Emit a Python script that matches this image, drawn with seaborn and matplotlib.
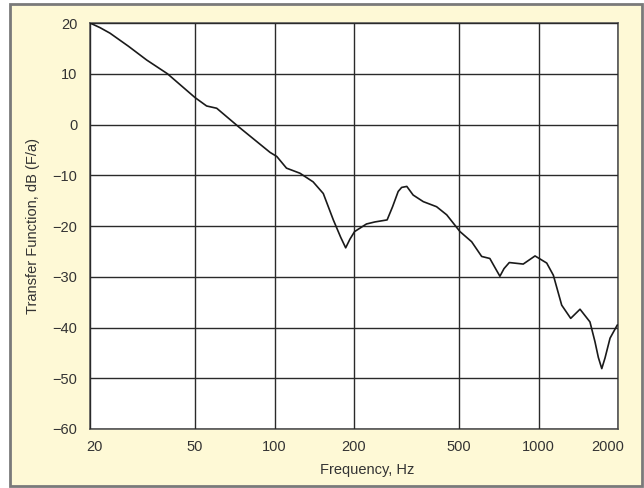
import matplotlib
matplotlib.use("Agg")
import matplotlib.pyplot as plt
import matplotlib.transforms as mtransforms
from matplotlib.patches import Rectangle
import seaborn as sns
import pandas as pd

# Data
freq_hz = [20, 21.8, 23.8, 28, 32.8, 39.3, 50, 55.3, 60.4, 72.9, 96.2, 102, 111,
           124.8, 140, 153, 167, 178, 186, 193, 201, 223, 240, 267, 280, 294, 303,
           317, 335, 366, 411, 449, 504, 558, 609, 654, 684, 714, 740, 775, 875,
           970, 1074, 1138, 1224, 1324, 1436, 1566, 1636, 1685, 1736, 1786, 1866,
           1988]
transfer_db = [20.0, 19.1, 18.0, 15.4, 12.7, 10.0, 5.3, 3.65, 3.2, -0.4, -5.5, -6.3,
               -8.6, -9.6, -11.3, -13.6, -18.8, -22.2, -24.3, -22.6, -21.1, -19.6,
               -19.2, -18.8, -16.2, -13.2, -12.4, -12.2, -13.9, -15.2, -16.2, -17.8,
               -21.1, -23.1, -26.0, -26.4, -28.2, -29.9, -28.4, -27.2, -27.5, -25.9,
               -27.3, -29.7, -35.6, -38.2, -36.4, -38.9, -42.8, -45.9, -48.1, -46.0,
               -42.1, -39.5]
x_ticks = [20, 50, 100, 200, 500, 1000, 2000]
x_tick_labels = ["20", "50", "100", "200", "500", "1000", "2000"]
y_ticks = [20, 10, 0, -10, -20, -30, -40, -50, -60]

df = pd.DataFrame({"freq": freq_hz, "db": transfer_db})

sns.set_theme(style="white")
plt.rcParams["font.family"] = ["Liberation Sans", "DejaVu Sans"]
plt.rcParams["axes.unicode_minus"] = True

W, H = 644, 488
fig = plt.figure(figsize=(W / 100, H / 100), dpi=100, facecolor="white")

# framed beige panel
panel = Rectangle((10 / W, 2 / H), 632 / W, 482 / H, transform=fig.transFigure,
                  facecolor="#FEF9D6", edgecolor="#7a7a7a", linewidth=2, zorder=0)
fig.add_artist(panel)

ax = fig.add_axes([90 / W, (H - 429) / H, 528 / W, 406 / H])
ax.set_facecolor("white")

sns.lineplot(data=df, x="freq", y="db", ax=ax, color="#1a1a1a", linewidth=1.2,
             sort=False, zorder=3)

ax.set_xscale("log")
ax.set_xlim(20, 2000)
ax.set_ylim(-60, 20)
ax.set_xticks(x_ticks)
ax.set_xticklabels(x_tick_labels)
ax.minorticks_off()
ax.set_yticks(y_ticks)
ax.set_yticklabels([("\u2212" + str(-v)) if v < 0 else str(v) for v in y_ticks])

ax.grid(True, which="major", color="#2a2a2a", linewidth=1.0)
ax.set_axisbelow(False)
for s in ax.spines.values():
    s.set_color("#555555")
    s.set_linewidth(1.2)
    s.set_visible(True)

ax.tick_params(axis="both", length=0, labelsize=10.5, colors="#333333")
ax.tick_params(axis="x", pad=8)
ax.tick_params(axis="y", pad=9)

# nudge end labels inward like the reference
labs = ax.get_xticklabels()
labs[0].set_transform(labs[0].get_transform() +
                      mtransforms.ScaledTranslation(4 / 100, 0, fig.dpi_scale_trans))
labs[-1].set_transform(labs[-1].get_transform() +
                       mtransforms.ScaledTranslation(-10 / 100, 0, fig.dpi_scale_trans))

ax.set_xlabel("Frequency, Hz", fontsize=10.5, color="#333333")
ax.set_ylabel("Transfer Function, dB (F/a)", fontsize=10.5, color="#333333")
ax.xaxis.set_label_coords(0.525, -0.102)
ax.yaxis.set_label_coords(-0.108, 0.5)
ax.xaxis.label.set_va("center")
ax.yaxis.label.set_va("center")

fig.savefig("out.png", dpi=100, facecolor=fig.get_facecolor())
